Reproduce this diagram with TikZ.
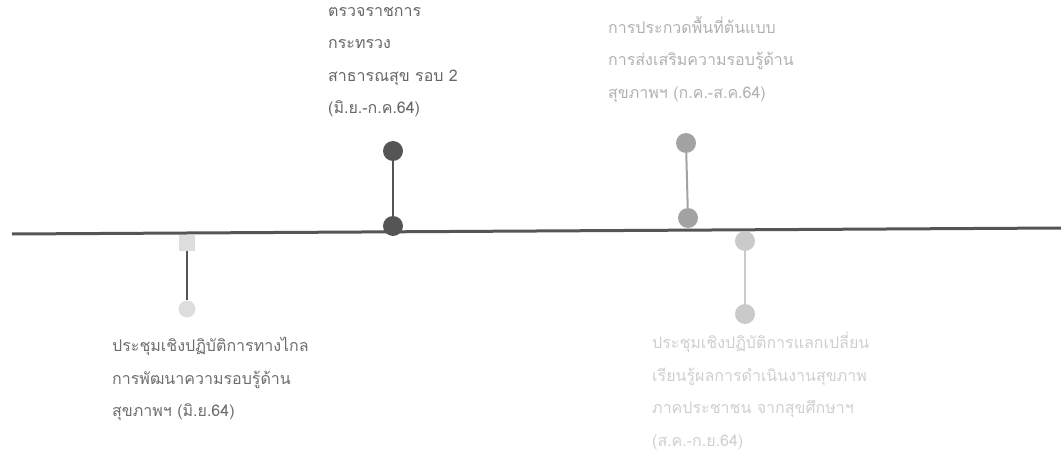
\documentclass[tikz,border=0pt]{standalone}
\usepackage{fontspec}
\newfontfamily\thaifont[Script=Thai]{Loma}
\definecolor{axis}{HTML}{555555}
\definecolor{dk}{HTML}{555555}
\definecolor{md}{HTML}{A3A3A3}
\definecolor{lt}{HTML}{DDDDDD}
\definecolor{vl}{HTML}{CACACA}
\begin{document}
\begin{tikzpicture}[x=1pt,y=-1pt]
 \tikzstyle{v} = [circle, inner sep=0pt, minimum size=20pt]
 \tikzstyle{sq} = [rectangle, inner sep=0pt, minimum size=16pt]
 \tikzstyle{e} = [line width=2pt]
 \tikzstyle{t} = [anchor=north west, align=left, inner sep=0pt, font=\thaifont\fontsize{16}{32.5}\selectfont]
    \useasboundingbox (0,0) rectangle (1061,452);
    %% time axis
    \coordinate (l) at (12,234);
    \coordinate (r) at (1061,228);
    \draw[line width=3pt, axis] (l)--(r);

    %% event 1 (below)
    \node[sq, fill=lt] (b1) at (187,243) {};
    \node[v, fill=lt, minimum size=17pt] (b2) at (187,309) {};
    \draw[e, dk] (b1)--(b2);
    \node[t, text=dk!85] (tb) at (112,337) {ประชุมเชิงปฏิบัติการทางไกล\\การพัฒนาความรอบรู้ด้าน\\สุขภาพฯ (มิ.ย.64)};

    %% event 2 (above)
    \node[v, fill=dk] (a1) at (393,226) {};
    \node[v, fill=dk] (a2) at (393,151) {};
    \draw[e, dk] (a1)--(a2);
    \node[t, text=dk!90] (ta) at (328,7) {ตรวจราชการ\\กระทรวง\\สาธารณสุข รอบ 2\\(มิ.ย.-ก.ค.64)};

    %% event 3 (above)
    \node[v, fill=md] (c1) at (688,218) {};
    \node[v, fill=md] (c2) at (686,143) {};
    \draw[e, md] (c1)--(c2);
    \node[t, text=md!85] (tc) at (608,16) {การประกวดพื้นที่ต้นแบบ\\การส่งเสริมความรอบรู้ด้าน\\สุขภาพฯ (ก.ค.-ส.ค.64)};

    %% event 4 (below)
    \node[v, fill=vl] (d1) at (745,241) {};
    \node[v, fill=vl] (d2) at (745,314) {};
    \draw[e, vl] (d1)--(d2);
    \node[t, text=vl!90] (td) at (652,332) {ประชุมเชิงปฏิบัติการแลกเปลี่ยน\\เรียนรู้ผลการดำเนินงานสุขภาพ\\ภาคประชาชน จากสุขศึกษาฯ\\(ส.ค.-ก.ย.64)};
\end{tikzpicture}
\end{document}
